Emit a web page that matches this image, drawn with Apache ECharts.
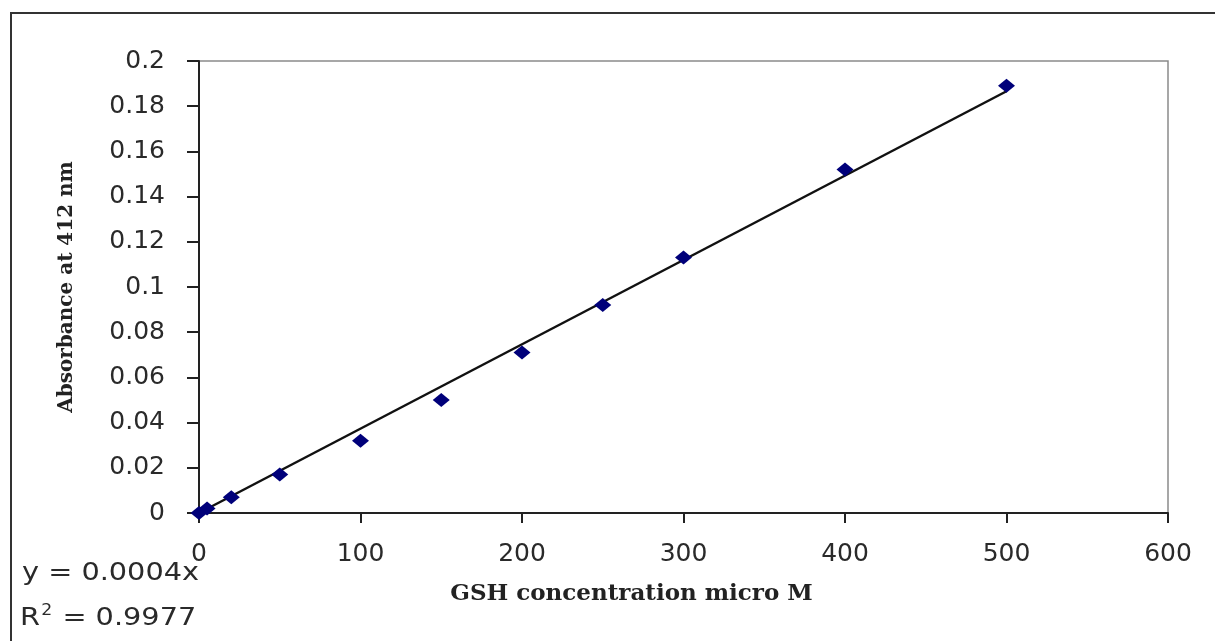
<!DOCTYPE html>
<html>
<head>
<meta charset="utf-8">
<script src="https://cdn.jsdelivr.net/npm/echarts@6/dist/echarts.min.js"></script>
<style>
  html, body { margin: 0; padding: 0; background: #fff; }
  #chart { width: 1215px; height: 641px; }
</style>
</head>
<body>
<div id="chart"></div>
<script>
// GSH standard curve
const concentration = [0, 5, 20, 50, 100, 150, 200, 250, 300, 400, 500]
const absorbance = [0, 0.002, 0.007, 0.017, 0.032, 0.05, 0.071, 0.092, 0.113, 0.152, 0.189]
const xTicks = { min: 0, max: 600, interval: 100 }
const yTicks = { min: 0, max: 0.2, interval: 0.02 }
const equationText = 'y = 0.0004x'
const r2Text = '0.9977'

// linear trendline through the origin (least squares from the points)
let sxy = 0, sxx = 0
concentration.forEach((x, i) => { sxy += x * absorbance[i]; sxx += x * x })
const slope = sxy / sxx
const xEnd = concentration[concentration.length - 1]

const chart = echarts.init(document.getElementById('chart'))

const sansFont = '"DejaVu Sans", sans-serif'
const serifFont = '"DejaVu Serif", serif'

chart.setOption({
  backgroundColor: '#fff',
  animation: false,
  grid: {
    left: 199, top: 61, right: 47, bottom: 128,
    show: true, borderColor: '#8a8a8a', borderWidth: 1.5, backgroundColor: '#fff',
  },
  xAxis: {
    type: 'value',
    ...xTicks,
    name: 'GSH concentration micro M',
    nameLocation: 'middle',
    nameGap: 70,
    nameTextStyle: {
      fontFamily: serifFont, fontWeight: 'bold', fontSize: 23, color: '#222',
      padding: [0, 104, 0, 0],
    },
    axisLine: { show: true, onZero: false, lineStyle: { color: '#222', width: 2 } },
    axisTick: { show: true, inside: false, length: 10, lineStyle: { color: '#222', width: 2 } },
    axisLabel: { margin: 29, fontFamily: sansFont, fontSize: 25, color: '#2a2a2a' },
    splitLine: { show: false },
  },
  yAxis: {
    type: 'value',
    ...yTicks,
    name: 'Absorbance at 412 nm',
    nameLocation: 'middle',
    nameRotate: 90,
    nameGap: 122,
    nameTextStyle: { fontFamily: serifFont, fontWeight: 'bold', fontSize: 20, color: '#222' },
    axisLine: { show: true, onZero: false, lineStyle: { color: '#222', width: 2 } },
    axisTick: { show: true, inside: false, length: 12, lineStyle: { color: '#222', width: 2 } },
    axisLabel: {
      margin: 34, fontFamily: sansFont, fontSize: 25, color: '#2a2a2a',
      formatter: v => String(parseFloat(v.toFixed(2))),
    },
    splitLine: { show: false },
  },
  series: [
    {
      name: 'trend',
      type: 'line',
      data: [[0, 0], [xEnd, slope * xEnd]],
      symbol: 'none',
      lineStyle: { color: '#111', width: 2.5 },
      z: 2,
    },
    {
      name: 'GSH',
      type: 'scatter',
      data: concentration.map((x, i) => [x, absorbance[i]]),
      symbol: 'diamond',
      symbolSize: [17, 14],
      itemStyle: { color: '#00007a', opacity: 1 },
      z: 3,
    },
  ],
  graphic: [
    {
      type: 'rect',
      shape: { x: 11, y: 13, width: 1240, height: 700 },
      style: { fill: 'none', stroke: '#333', lineWidth: 2 },
      z: 10,
    },
    {
      type: 'text',
      x: 22, y: 561, scaleX: 1.15,
      style: { text: equationText, font: '25px ' + sansFont, fill: '#2a2a2a' },
    },
    {
      type: 'text',
      x: 20, y: 604, scaleX: 1.15,
      style: {
        text: '{a|R}{s|2}{a| = ' + r2Text + '}',
        rich: {
          a: { fontFamily: sansFont, fontSize: 25, fill: '#2a2a2a', verticalAlign: 'bottom' },
          s: { fontFamily: sansFont, fontSize: 15, fill: '#2a2a2a', verticalAlign: 'top', padding: [0, 1, 12, 1] },
        },
      },
    },
  ],
})
</script>
</body>
</html>
